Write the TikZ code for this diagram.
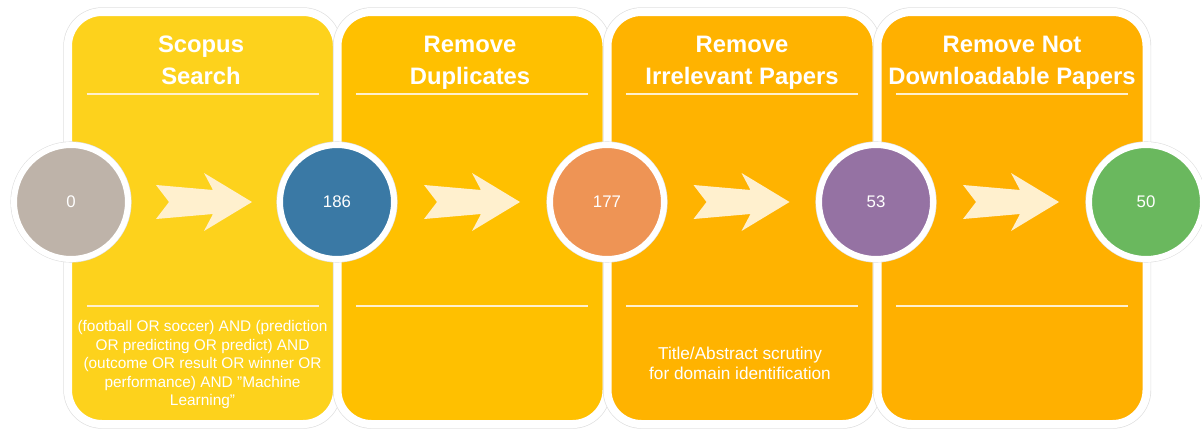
\documentclass[tikz,border=0pt]{standalone}
\usepackage{fontspec}
\setmainfont{Liberation Sans}
\usetikzlibrary{calc}

\definecolor{stepA}{HTML}{FDD21C}
\definecolor{stepB}{HTML}{FFC000}
\definecolor{stepC}{HTML}{FFB300}
\definecolor{stepD}{HTML}{FFB000}
\definecolor{cntA}{HTML}{BEB3A9}
\definecolor{cntB}{HTML}{3A79A5}
\definecolor{cntC}{HTML}{EE9455}
\definecolor{cntD}{HTML}{9572A3}
\definecolor{cntE}{HTML}{6AB85E}
\definecolor{cream}{HTML}{FFF0CE}

\tikzset{
  stepbox/.style={rectangle, rounded corners=17pt, minimum width=134.5pt, minimum height=206pt,
    inner sep=0pt, draw=white, line width=4pt, preaction={draw=black!12, line width=4.7pt}},
  count/.style={circle, minimum size=57pt, inner sep=0pt, draw=white, line width=3pt,
    preaction={draw=black!12, line width=3.6pt}, text=white, font=\fontsize{8.4}{10}\selectfont},
  steptitle/.style={align=center, text=white, font=\fontsize{11.9}{16}\selectfont\bfseries},
  steptext/.style={align=center, text=white, font=\fontsize{7.7}{9.25}\selectfont},
  sepline/.style={draw=cream, line width=1pt},
  chevron/.style={fill=cream}
}

\begin{document}
\begin{tikzpicture}[x=0.5pt,y=-0.5pt]
\useasboundingbox (0,0) rectangle (1202,428);

% stage boxes
\node[stepbox, fill=stepA] (B1) at (202.5,218) {};
\node[stepbox, fill=stepB] (B2) at (472,218) {};
\node[stepbox, fill=stepC] (B3) at (742,218) {};
\node[stepbox, fill=stepD] (B4) at (1012,218) {};

\node[steptitle] (T1) at (201,62) {Scopus\strut\\Search\strut};
\node[steptitle] (T2) at (470,62) {Remove\strut\\Duplicates\strut};
\node[steptitle] (T3) at (742,62) {Remove\strut\\Irrelevant Papers\strut};
\node[steptitle] (T4) at (1012,62) {Remove Not\strut\\Downloadable Papers\strut};

\draw[sepline] (86.5,94) -- (318.5,94);
\draw[sepline] (356,94) -- (588,94);
\draw[sepline] (626,94) -- (858,94);
\draw[sepline] (896,94) -- (1128,94);
\draw[sepline] (86.5,306) -- (318.5,306);
\draw[sepline] (356,306) -- (588,306);
\draw[sepline] (626,306) -- (858,306);
\draw[sepline] (896,306) -- (1128,306);

\node[steptext] (Q1) at (202.5,365) {(football OR soccer) AND (prediction\\OR predicting OR predict) AND\\(outcome OR result OR winner OR\\performance) AND "Machine\\Learning"};
\node[steptext, font=\fontsize{8.6}{10}\selectfont] (Q3) at (740,363) {Title/Abstract scrutiny\\for domain identification};

% paper counts
\node[count, fill=cntA] (C0) at (71,202) {0};
\node[count, fill=cntB] (C1) at (337,202) {186};
\node[count, fill=cntC] (C2) at (607,202) {177};
\node[count, fill=cntD] (C3) at (876,202) {53};
\node[count, fill=cntE] (C4) at (1146,202) {50};

\coordinate (A1) at ($(C0)!0.5!(C1)$);
\coordinate (A2) at ($(C1)!0.5!(C2)$);
\coordinate (A3) at ($(C2)!0.5!(C3)$);
\coordinate (A4) at ($(C3)!0.5!(C4)$);

\fill[chevron, shift={(A1)}] (-48,-17) -- (-35,0) -- (-48,17) -- (9,12) -- (0,29) -- (48,0) -- (0,-29) -- (9,-12) -- cycle;
\fill[chevron, shift={(A2)}] (-48,-17) -- (-35,0) -- (-48,17) -- (9,12) -- (0,29) -- (48,0) -- (0,-29) -- (9,-12) -- cycle;
\fill[chevron, shift={(A3)}] (-48,-17) -- (-35,0) -- (-48,17) -- (9,12) -- (0,29) -- (48,0) -- (0,-29) -- (9,-12) -- cycle;
\fill[chevron, shift={(A4)}] (-48,-17) -- (-35,0) -- (-48,17) -- (9,12) -- (0,29) -- (48,0) -- (0,-29) -- (9,-12) -- cycle;

\end{tikzpicture}
\end{document}
